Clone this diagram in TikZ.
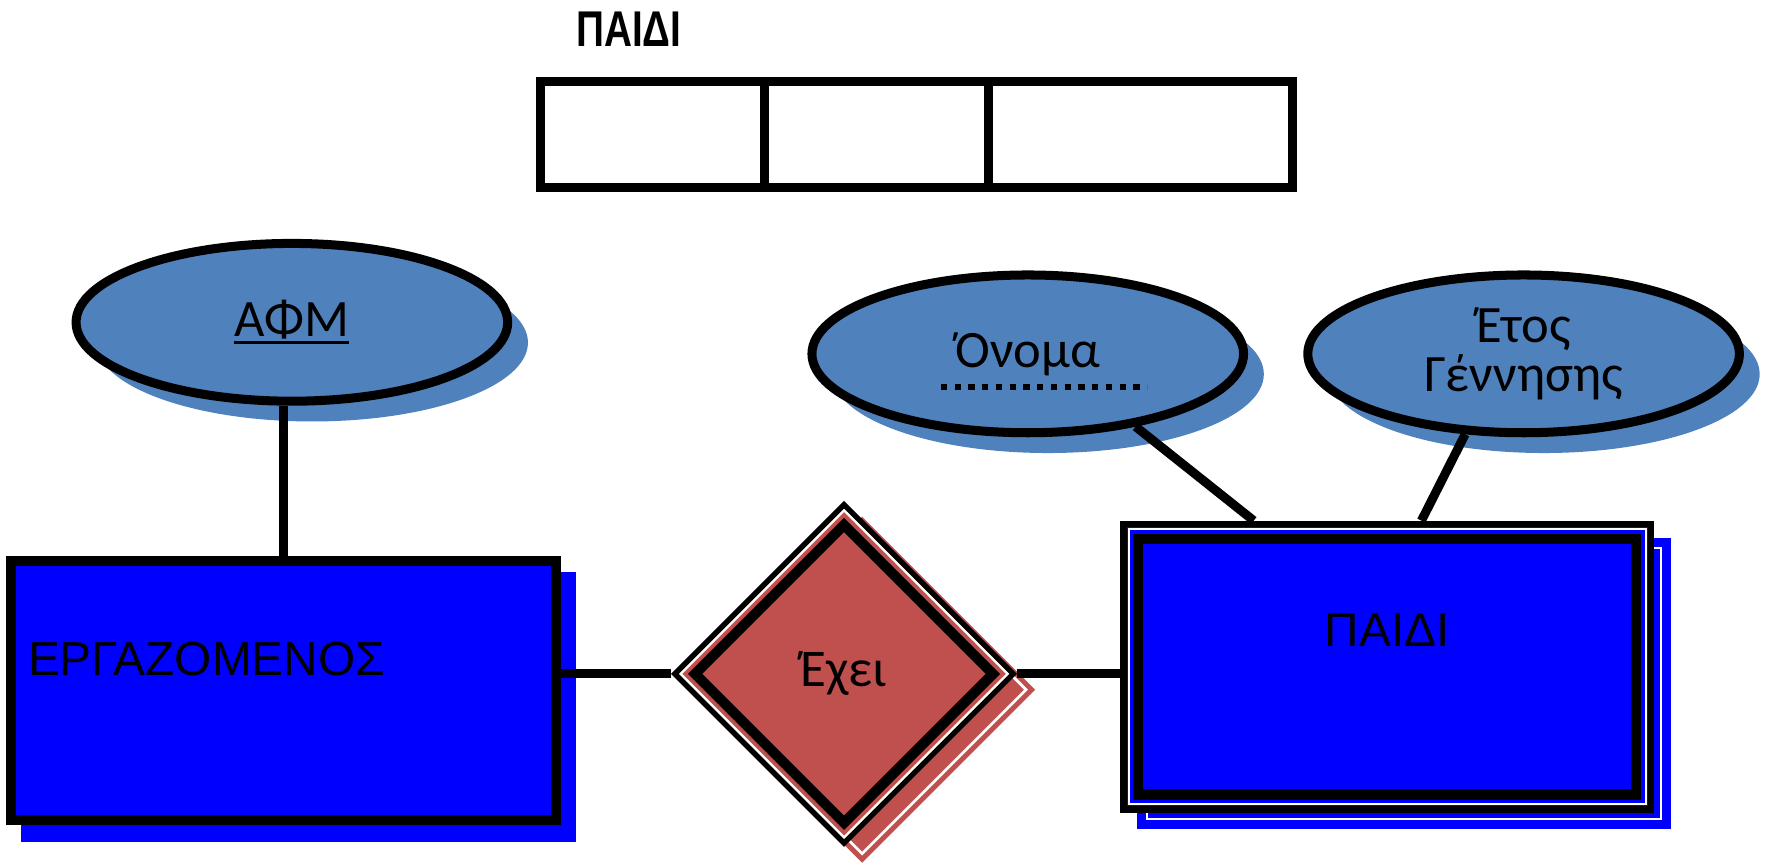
\documentclass[tikz,border=0pt]{standalone}
\usepackage{fontspec}
\setmainfont{Liberation Sans}
\newfontfamily\attrfont{Carlito}
\usetikzlibrary{positioning,shapes.geometric,shadows,backgrounds,calc}

\definecolor{entblue}{HTML}{0000FF}
\definecolor{attrblue}{HTML}{4F81BD}
\definecolor{relred}{HTML}{C0504D}

\newcommand{\keyline}[1]{\setbox0\hbox{#1}\rlap{\rule[-3.5pt]{\wd0}{1.5pt}}\box0}

\tikzset{
  entity/.style={rectangle, draw=black, fill=entblue, line width=4.5pt, inner sep=0pt},
  enttext/.style={inner sep=0pt, font=\fontsize{21.2pt}{25pt}\selectfont},
  attr/.style={ellipse, draw=black, fill=attrblue, line width=4pt, inner sep=0pt,
    minimum width=191.5pt, minimum height=70pt, align=center,
    font=\attrfont\fontsize{23.3pt}{21.5pt}\selectfont,
    drop shadow={shadow xshift=9pt, shadow yshift=-9pt, opacity=1, fill=attrblue}},
  rel/.style={diamond, aspect=1, inner sep=0pt},
  cell/.style={rectangle, draw=black, line width=4pt, outer sep=0pt, minimum height=47pt},
  link/.style={draw=black, line width=4pt},
}

\begin{document}
\begin{tikzpicture}[x=0.5pt, y=-0.5pt]
  \useasboundingbox (0,0) rectangle (1568,767);

  % table of the weak entity
  \node[inner sep=0pt, font=\bfseries\fontsize{22.3pt}{26pt}\selectfont] (tbltitle) at (558,26) {\scalebox{0.77}[1]{ΠΑΙΔΙ}};
  \node[cell, minimum width=99pt] (c1) at (579,119) {};
  \node[cell, minimum width=99.5pt, right=0pt of c1] (c2) {};
  \node[cell, minimum width=135pt, right=0pt of c2] (c3) {};

  % entities
  \node[entity, minimum width=241.5pt, minimum height=115pt] (erg) at (251.5,613) {};
  \node[enttext, anchor=west] (erglbl) at ([shift={(9.5pt,14pt)}]erg.west) {ΕΡΓΑΖΟΜΕΝΟΣ};

  \node[entity, line width=3pt, minimum width=234pt, minimum height=126.5pt] (child) at (1231,591.5) {};
  \node[draw=white, line width=0.9pt, inner sep=0pt, minimum width=229.5pt, minimum height=122pt] (childgap) at (child.center) {};
  \node[entity, minimum width=221pt, minimum height=113.5pt] (childin) at (child.center) {};
  \node[enttext] (childlbl) at ([yshift=16.25pt]child.center) {ΠΑΙΔΙ};

  % relationship
  \node[rel, draw=black, fill=relred, line width=2.5pt, minimum width=151pt, minimum height=151pt] (has) at (749,598) {};
  \node[rel, draw=white, line width=1pt, minimum width=145.5pt, minimum height=145.5pt] (hasgap) at (has.center) {};
  \node[rel, draw=black, fill=relred, line width=4.5pt, minimum width=134pt, minimum height=134pt,
    font=\attrfont\fontsize{23.5pt}{26pt}\selectfont] (hasin) at (has.center) {Έχει};

  % attributes
  \node[attr] (afm) at (259,286) {\keyline{ΑΦΜ}};
  \node[attr] (name) at (912,314) {Όνομα};
  \node[attr] (year) at (1352,314) {Έτος\\Γέννησης};
  \draw[line width=2.7pt, dash pattern=on 2.7pt off 3.4pt] ([shift={(-38.5pt,-14.5pt)}]name.center) -- ++(91.5pt,0pt);

  % connectors
  \draw[link] (erg.north) -- (erg.north |- afm.south);
  \draw[link] (erg.east |- has.west) -- (has.west);
  \draw[link] (has.east) -- (has.east -| child.west);
  \draw[link] (name.-34) -- ($(child.north west)!0.25!(child.north east)$);
  \draw[link] (year.-126) -- ($(child.north west)!0.564!(child.north east)$);

  % shadows
  \begin{scope}[on background layer]
    \fill[entblue] ([shift={(6.5pt,-7.5pt)}]erg.south west) rectangle ([shift={(7pt,-7pt)}]erg.north east);
    \begin{scope}[transform canvas={shift={(7.5pt,-7.5pt)}}]
      \fill[entblue] (child.south west) rectangle (child.north east);
      \draw[white, line width=0.9pt] ([shift={(4.5pt,4.5pt)}]child.south west) rectangle ([shift={(-4.5pt,-4.5pt)}]child.north east);
    \end{scope}
    \begin{scope}[transform canvas={shift={(8pt,-7pt)}}]
      \fill[relred] (has.north) -- (has.east) -- (has.south) -- (has.west) -- cycle;
      \draw[white, line width=1.2pt] ([yshift=-4pt]has.north) -- ([xshift=-4pt]has.east) -- ([yshift=4pt]has.south) -- ([xshift=4pt]has.west) -- cycle;
    \end{scope}
  \end{scope}
\end{tikzpicture}
\end{document}
